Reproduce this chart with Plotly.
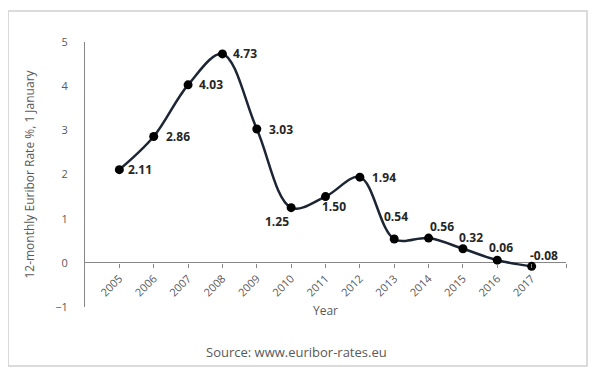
import plotly.graph_objects as go

years = [2005, 2006, 2007, 2008, 2009, 2010, 2011, 2012, 2013, 2014, 2015, 2016, 2017]
rates = [2.11, 2.86, 4.03, 4.73, 3.03, 1.25, 1.50, 1.94, 0.54, 0.56, 0.32, 0.06, -0.08]
y_ticks = [-1, 0, 1, 2, 3, 4, 5]

# pixel offsets of each data label's centre from its point (style only)
label_dx = [21, 24, 23, 23, 24, -14, 8, 24, 2, 13, 8, 4, 12]
label_dy = [0, 0, 0, 0, 0, -14, -10, 0, 22, 12, 11, 13, 11]

FONT = "Open Sans"
GRAY = "#595959"
Y_MIN, Y_MAX = -1, 5

fig = go.Figure()
fig.add_trace(go.Scatter(
    x=years, y=rates,
    mode="lines+markers",
    line=dict(shape="spline", smoothing=1.0, color="#1c2533", width=2.5),
    marker=dict(color="black", size=9),
    cliponaxis=False,
    showlegend=False,
    hoverinfo="skip",
))

annotations = []
for x, y, dx, dy in zip(years, rates, label_dx, label_dy):
    annotations.append(dict(
        x=x, y=y, xref="x", yref="y", text=f"{y:.2f}", showarrow=False,
        xanchor="center", yanchor="middle", xshift=dx, yshift=dy,
        font=dict(family=FONT, size=12, color="#262626", weight="bold"),
    ))

annotations.append(dict(
    text="Source: www.euribor-rates.eu", xref="paper", yref="paper",
    x=0.44, y=-0.17, xanchor="center", yanchor="middle", showarrow=False,
    font=dict(family=FONT, size=13, color=GRAY),
))

tickvals = years + [years[-1] + 1]
ticktext = [str(y) for y in years] + [""]

fig.update_layout(
    width=592, height=370,
    margin=dict(l=77, r=34, t=34, b=71, autoexpand=False),
    paper_bgcolor="white", plot_bgcolor="white",
    font=dict(family=FONT, color=GRAY),
    xaxis=dict(
        range=[years[0] - 1, years[-1] + 1],
        tickvals=tickvals, ticktext=ticktext,
        tickangle=-45, tickfont=dict(size=11, color=GRAY),
        showgrid=False, zeroline=False, showline=False,
        ticks="outside", ticklen=4, tickcolor="#868686",
        anchor="free", position=(0 - Y_MIN) / (Y_MAX - Y_MIN),
        automargin=False,
        title=dict(text="Year", font=dict(size=12, color=GRAY), standoff=8),
    ),
    yaxis=dict(
        range=[Y_MIN, Y_MAX], tickvals=y_ticks,
        tickfont=dict(size=11, color=GRAY),
        showgrid=False, zeroline=True, zerolinecolor="#868686", zerolinewidth=1,
        showline=True, linecolor="#868686", linewidth=1,
        ticks="", ticklabelstandoff=14, automargin=False,
        title=dict(text="12-monthly Euribor Rate %, 1 January", font=dict(size=12, color=GRAY), standoff=18),
    ),
    annotations=annotations,
    shapes=[dict(
        type="rect", xref="paper", yref="paper",
        x0=-0.160, x1=1.0437, y0=-0.2226, y1=1.117,
        line=dict(color="#d0d0d0", width=1.5), layer="below",
    )],
)

fig.write_html("out.html")
